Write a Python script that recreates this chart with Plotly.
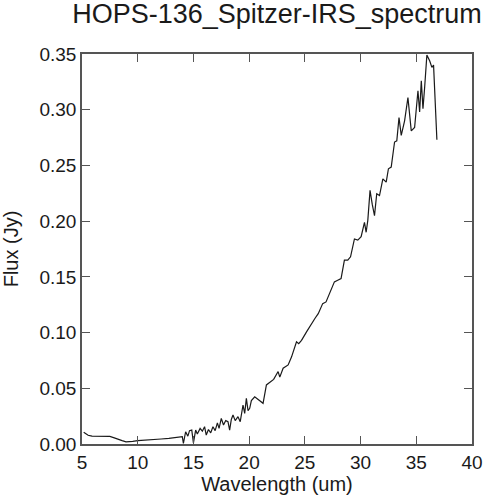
import plotly.graph_objects as go

# spectrum
wavelength = [5.15, 5.35, 5.55, 5.9, 6.3, 6.7, 7.1, 7.5, 7.9, 8.2, 8.6, 8.95, 9.3, 9.55, 10.0,
              10.6, 11.2, 12.1, 12.8, 13.6, 14.0, 14.1, 14.3, 14.5, 14.65, 14.85, 15.0, 15.2,
              15.35, 15.6, 15.8, 16.0, 16.15, 16.35, 16.55, 16.75, 16.95, 17.15, 17.3, 17.5,
              17.7, 17.9, 18.1, 18.25, 18.4, 18.55, 18.75, 19.0, 19.2, 19.45, 19.6, 19.75,
              19.9, 20.05, 20.2, 20.5, 20.9, 21.25, 21.55, 21.85, 22.2, 22.6, 22.75, 23.05,
              23.5, 23.8, 24.25, 24.45, 24.7, 25.15, 25.4, 25.9, 26.2, 26.6, 26.9, 27.2,
              27.65, 27.95, 28.25, 28.55, 28.85, 29.1, 29.45, 29.75, 30.05, 30.35, 30.5,
              30.65, 30.85, 31.05, 31.25, 31.45, 31.7, 32.0, 32.3, 32.5, 32.75, 33.05, 33.25,
              33.45, 33.65, 33.95, 34.25, 34.55, 34.85, 35.15, 35.3, 35.45, 35.6, 35.75,
              35.95, 36.2, 36.4, 36.55, 36.85]
flux = [0.0105, 0.0095, 0.0078, 0.0070, 0.0068, 0.0070, 0.0067, 0.0068, 0.0055, 0.0042,
        0.0030, 0.0020, 0.0020, 0.0024, 0.0030, 0.0036, 0.0040, 0.0045, 0.0050, 0.0057,
        0.0066, 0.0006, 0.011, 0.007, 0.012, 0.0125, 0.001, 0.0125, 0.009, 0.014, 0.0115,
        0.0155, 0.008, 0.013, 0.010, 0.0155, 0.012, 0.019, 0.014, 0.023, 0.017, 0.021,
        0.020, 0.0125, 0.022, 0.026, 0.021, 0.0245, 0.020, 0.035, 0.0275, 0.041, 0.030,
        0.032, 0.039, 0.0424, 0.039, 0.0365, 0.053, 0.055, 0.058, 0.065, 0.060, 0.068,
        0.071, 0.078, 0.0917, 0.090, 0.093, 0.1006, 0.105, 0.1126, 0.117, 0.126, 0.1275,
        0.135, 0.1455, 0.147, 0.1485, 0.165, 0.165, 0.168, 0.184, 0.183, 0.186, 0.199,
        0.190, 0.2007, 0.2276, 0.215, 0.205, 0.2246, 0.223, 0.238, 0.235, 0.247, 0.2485,
        0.271, 0.272, 0.293, 0.277, 0.290, 0.311, 0.281, 0.284, 0.317, 0.298, 0.326,
        0.301, 0.320, 0.349, 0.344, 0.338, 0.340, 0.273]

x_ticks = [5, 10, 15, 20, 25, 30, 35, 40]
y_ticks = [0.00, 0.05, 0.10, 0.15, 0.20, 0.25, 0.30, 0.35]

fig = go.Figure()
fig.add_trace(go.Scatter(x=wavelength, y=flux, mode="lines",
                         line=dict(color="#1a1a1a", width=1.2), showlegend=False))

axis_style = dict(showline=True, mirror="ticks", ticks="inside", ticklen=8,
                  linecolor="#555555", tickcolor="#555555", linewidth=1.5, tickwidth=1.3,
                  showgrid=False, zeroline=False, automargin=False,
                  tickfont=dict(family="Liberation Sans", size=19, color="#1a1a1a"))

fig.update_layout(
    width=492, height=500,
    paper_bgcolor="white", plot_bgcolor="white",
    margin=dict(l=82, r=20, t=54, b=56),
    font=dict(family="Liberation Sans", color="#1a1a1a"),
    title=dict(text="HOPS-136_Spitzer-IRS_spectrum", x=0.563, xref="container",
               xanchor="center", y=0.972, yanchor="middle",
               font=dict(family="Liberation Sans", size=27, color="#1a1a1a")),
    xaxis=dict(range=[5, 40], tickvals=x_ticks, ticktext=[str(v) for v in x_ticks],
               title=dict(text="Wavelength (um)", standoff=5,
                          font=dict(family="Liberation Sans", size=20)),
               **axis_style),
    yaxis=dict(range=[0, 0.35], tickvals=y_ticks, ticktext=[f"{v:.2f}" for v in y_ticks],
               title=dict(text="Flux (Jy)", standoff=16,
                          font=dict(family="Liberation Sans", size=20)),
               **axis_style),
)

# drop the page's default body margin so the figure sits at the window corner
fig.write_html("out.html", config={"displayModeBar": False},
               post_script="document.body.style.margin='0';")
